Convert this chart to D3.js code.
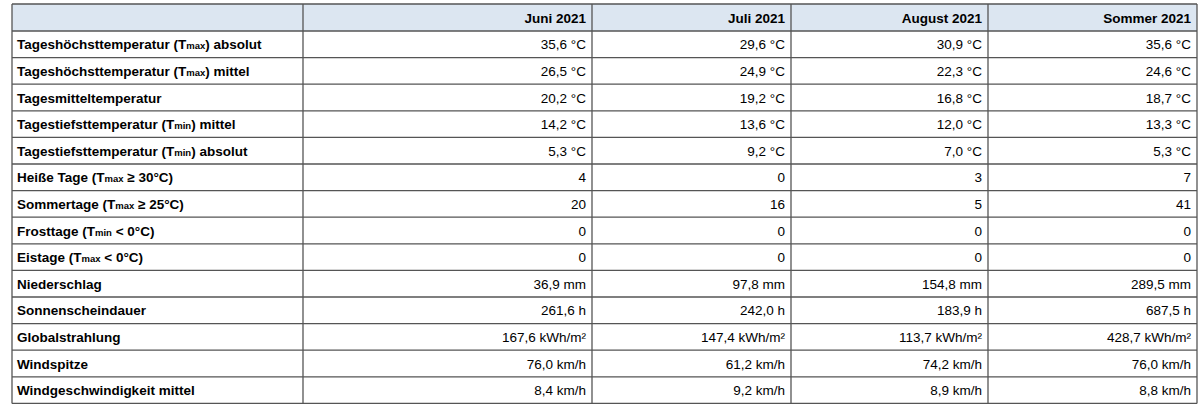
<!DOCTYPE html><html><head><meta charset="utf-8">
<script src="https://cdn.jsdelivr.net/npm/d3@7"></script>
<style>body{margin:0;background:#fff}</style></head><body><svg id="c" width="1200" height="408"></svg>
<script>
const columns=["Juni 2021","Juli 2021","August 2021","Sommer 2021"];
const rowLabels=[["Tageshöchsttemperatur (T","max",") absolut"],["Tageshöchsttemperatur (T","max",") mittel"],["Tagesmitteltemperatur"],["Tagestiefsttemperatur (T","min",") mittel"],["Tagestiefsttemperatur (T","min",") absolut"],["Heiße Tage (T","max"," ≥ 30°C)"],["Sommertage (T","max"," ≥ 25°C)"],["Frosttage (T","min"," < 0°C)"],["Eistage (T","max"," < 0°C)"],["Niederschlag"],["Sonnenscheindauer"],["Globalstrahlung"],["Windspitze"],["Windgeschwindigkeit mittel"]];
const juni=["35,6 °C","26,5 °C","20,2 °C","14,2 °C","5,3 °C","4","20","0","0","36,9 mm","261,6 h","167,6 kWh/m²","76,0 km/h","8,4 km/h"];
const juli=["29,6 °C","24,9 °C","19,2 °C","13,6 °C","9,2 °C","0","16","0","0","97,8 mm","242,0 h","147,4 kWh/m²","61,2 km/h","9,2 km/h"];
const august=["30,9 °C","22,3 °C","16,8 °C","12,0 °C","7,0 °C","3","5","0","0","154,8 mm","183,9 h","113,7 kWh/m²","74,2 km/h","8,9 km/h"];
const sommer=["35,6 °C","24,6 °C","18,7 °C","13,3 °C","5,3 °C","7","41","0","0","289,5 mm","687,5 h","428,7 kWh/m²","76,0 km/h","8,8 km/h"];
const vals=[juni,juli,august,sommer];
const svg=d3.select("#c");
const edges=[12,303,592,791,988,1197];
const y0=4,hh=27,rh=26.6;
const y=i=>y0+hh+i*rh;
const bottom=y(rowLabels.length);
svg.append("rect").attr("x",edges[0]).attr("y",y0).attr("width",edges[5]-edges[0]).attr("height",hh).attr("fill","#dce6f1");
const f="Liberation Sans, Arial, sans-serif";
columns.forEach((c,j)=>svg.append("text").attr("x",edges[j+2]-6).attr("y",y0+hh/2+5).attr("text-anchor","end").attr("font-family",f).attr("font-size",13.5).attr("font-weight","bold").attr("fill","#000").text(c));
rowLabels.forEach((l,i)=>{
  const t=svg.append("text").attr("x",edges[0]+5).attr("y",y(i)+rh/2+5).attr("font-family",f).attr("font-size",13.5).attr("font-weight","bold").attr("fill","#000");
  t.append("tspan").text(l[0]);
  if(l[1]){t.append("tspan").attr("font-size",9.5).text(l[1]);t.append("tspan").attr("font-size",13.5).text(l[2]);}
  vals.forEach((v,j)=>svg.append("text").attr("x",edges[j+2]-6).attr("y",y(i)+rh/2+5).attr("text-anchor","end").attr("font-family",f).attr("font-size",13.5).attr("fill","#000").text(v[i]));
});
const g=svg.append("g").attr("stroke","#555").attr("stroke-width",1.3);
for(let i=0;i<=rowLabels.length;i++) g.append("line").attr("x1",edges[0]).attr("x2",edges[5]).attr("y1",y(i)).attr("y2",y(i));
g.append("line").attr("x1",edges[0]).attr("x2",edges[5]).attr("y1",y0).attr("y2",y0);
edges.forEach(x=>g.append("line").attr("x1",x).attr("x2",x).attr("y1",y0).attr("y2",bottom));
</script></body></html>
